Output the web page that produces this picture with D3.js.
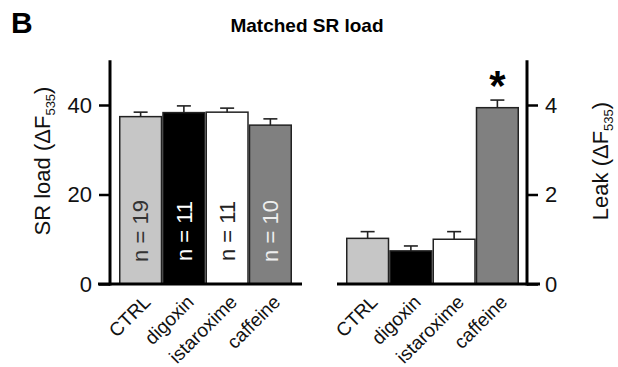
<!DOCTYPE html>
<html><head><meta charset="utf-8">
<script src="https://cdn.jsdelivr.net/npm/d3@7"></script>
<style>
body{margin:0;background:#fff;}
text{font-family:"Liberation Sans",Arial,sans-serif;}
</style></head>
<body><svg id="c" width="618" height="367"></svg>
<script>
const categories = ["CTRL","digoxin","istaroxime","caffeine"];
const srLoad = [37.4, 38.3, 38.4, 35.5];
const srLoadErr = [1.0, 1.5, 0.9, 1.4];
const nCounts = ["n = 19","n = 11","n = 11","n = 10"];
const leak = [1.02, 0.74, 1.00, 3.94];
const leakErr = [0.15, 0.11, 0.17, 0.17];
const srTicks = [0, 20, 40];
const leakTicks = [0, 2, 4];
const fills = ["#c6c6c6","#000000","#ffffff","#808080"];
const nColors = ["#333","#fff","#222","#eee"];

const svg = d3.select("#c");
const y0 = 284;
const yL = d3.scaleLinear().domain([0,50]).range([y0, y0-223.75]);
const yR = d3.scaleLinear().domain([0,5]).range([y0, y0-223.75]);
const xL = d3.scaleBand().domain(categories).range([119,292]).padding(0);
const xR = d3.scaleBand().domain(categories).range([346,519]).padding(0);

svg.append("text").attr("x",11).attr("y",33).attr("font-size",30).attr("font-weight","bold").text("B");
svg.append("text").attr("x",307).attr("y",32).attr("text-anchor","middle").attr("font-size",19).attr("font-weight","bold").text("Matched SR load");

function panel(x, y, vals, errs, axisX, side, ticks, baseX1, baseX2){
  const g = svg.append("g");
  g.selectAll("rect").data(vals).join("rect")
    .attr("x",(d,i)=>x(categories[i])+0.75).attr("width",x.bandwidth()-1.5)
    .attr("y",d=>y(d)).attr("height",d=>y0-y(d))
    .attr("fill",(d,i)=>fills[i]).attr("stroke","#222").attr("stroke-width",1.5);
  vals.forEach((v,i)=>{
    const cx = x(categories[i]) + x.bandwidth()/2;
    g.append("line").attr("x1",cx).attr("x2",cx).attr("y1",y(v)).attr("y2",y(v+errs[i])).attr("stroke","#222").attr("stroke-width",1.6);
    g.append("line").attr("x1",cx-7).attr("x2",cx+7).attr("y1",y(v+errs[i])).attr("y2",y(v+errs[i])).attr("stroke","#222").attr("stroke-width",1.6);
  });
  g.append("line").attr("x1",baseX1).attr("x2",baseX2).attr("y1",y0).attr("y2",y0).attr("stroke","#000").attr("stroke-width",3);
  const axis = (side==="left"? d3.axisLeft(y):d3.axisRight(y)).tickValues(ticks).tickFormat(d3.format("d")).tickSize(11).tickPadding(7).tickSizeOuter(0);
  const ga = g.append("g").attr("transform",`translate(${axisX},0)`).call(axis);
  ga.select(".domain").attr("stroke","#000").attr("stroke-width",3).attr("d",`M0,${y0+1.5}V${y.range()[1]}`);
  ga.selectAll(".tick line").attr("stroke","#000").attr("stroke-width",2.5);
  ga.selectAll(".tick text").attr("font-size",22).attr("fill","#111").attr("font-family","'Liberation Sans',Arial,sans-serif");
  categories.forEach((c,i)=>{
    const cx = x(c) + x.bandwidth()/2 + 2;
    g.append("text").attr("transform",`translate(${cx},${y0+10}) rotate(-45)`)
      .attr("text-anchor","end").attr("dy",13).attr("font-size",19).attr("fill","#111").text(c);
  });
  return g;
}

panel(xL, yL, srLoad, srLoadErr, 110, "left", srTicks, 98, 302);
panel(xR, yR, leak, leakErr, 527, "right", leakTicks, 337, 540);

nCounts.forEach((t,i)=>{
  const cx = xL(categories[i]) + xL.bandwidth()/2;
  svg.append("text").attr("transform",`translate(${cx},231) rotate(-90)`)
    .attr("text-anchor","middle").attr("dy","0.35em").attr("font-size",22).attr("fill",nColors[i]).text(t);
});

svg.append("text").attr("x",xR("caffeine")+xR.bandwidth()/2).attr("y",100).attr("text-anchor","middle")
  .attr("font-size",42).attr("font-weight","bold").text("*");

function ytitle(x, yc, main){
  const t = svg.append("text").attr("transform",`translate(${x},${yc}) rotate(-90)`).attr("text-anchor","middle").attr("font-size",22).attr("fill","#111");
  t.append("tspan").text(main+" (\u0394F");
  t.append("tspan").attr("font-size",13).attr("dy",5).text("535");
  t.append("tspan").attr("dy",-5).text(")");
}
ytitle(50, 161, "SR load");
ytitle(608, 161, "Leak");
</script></body></html>
